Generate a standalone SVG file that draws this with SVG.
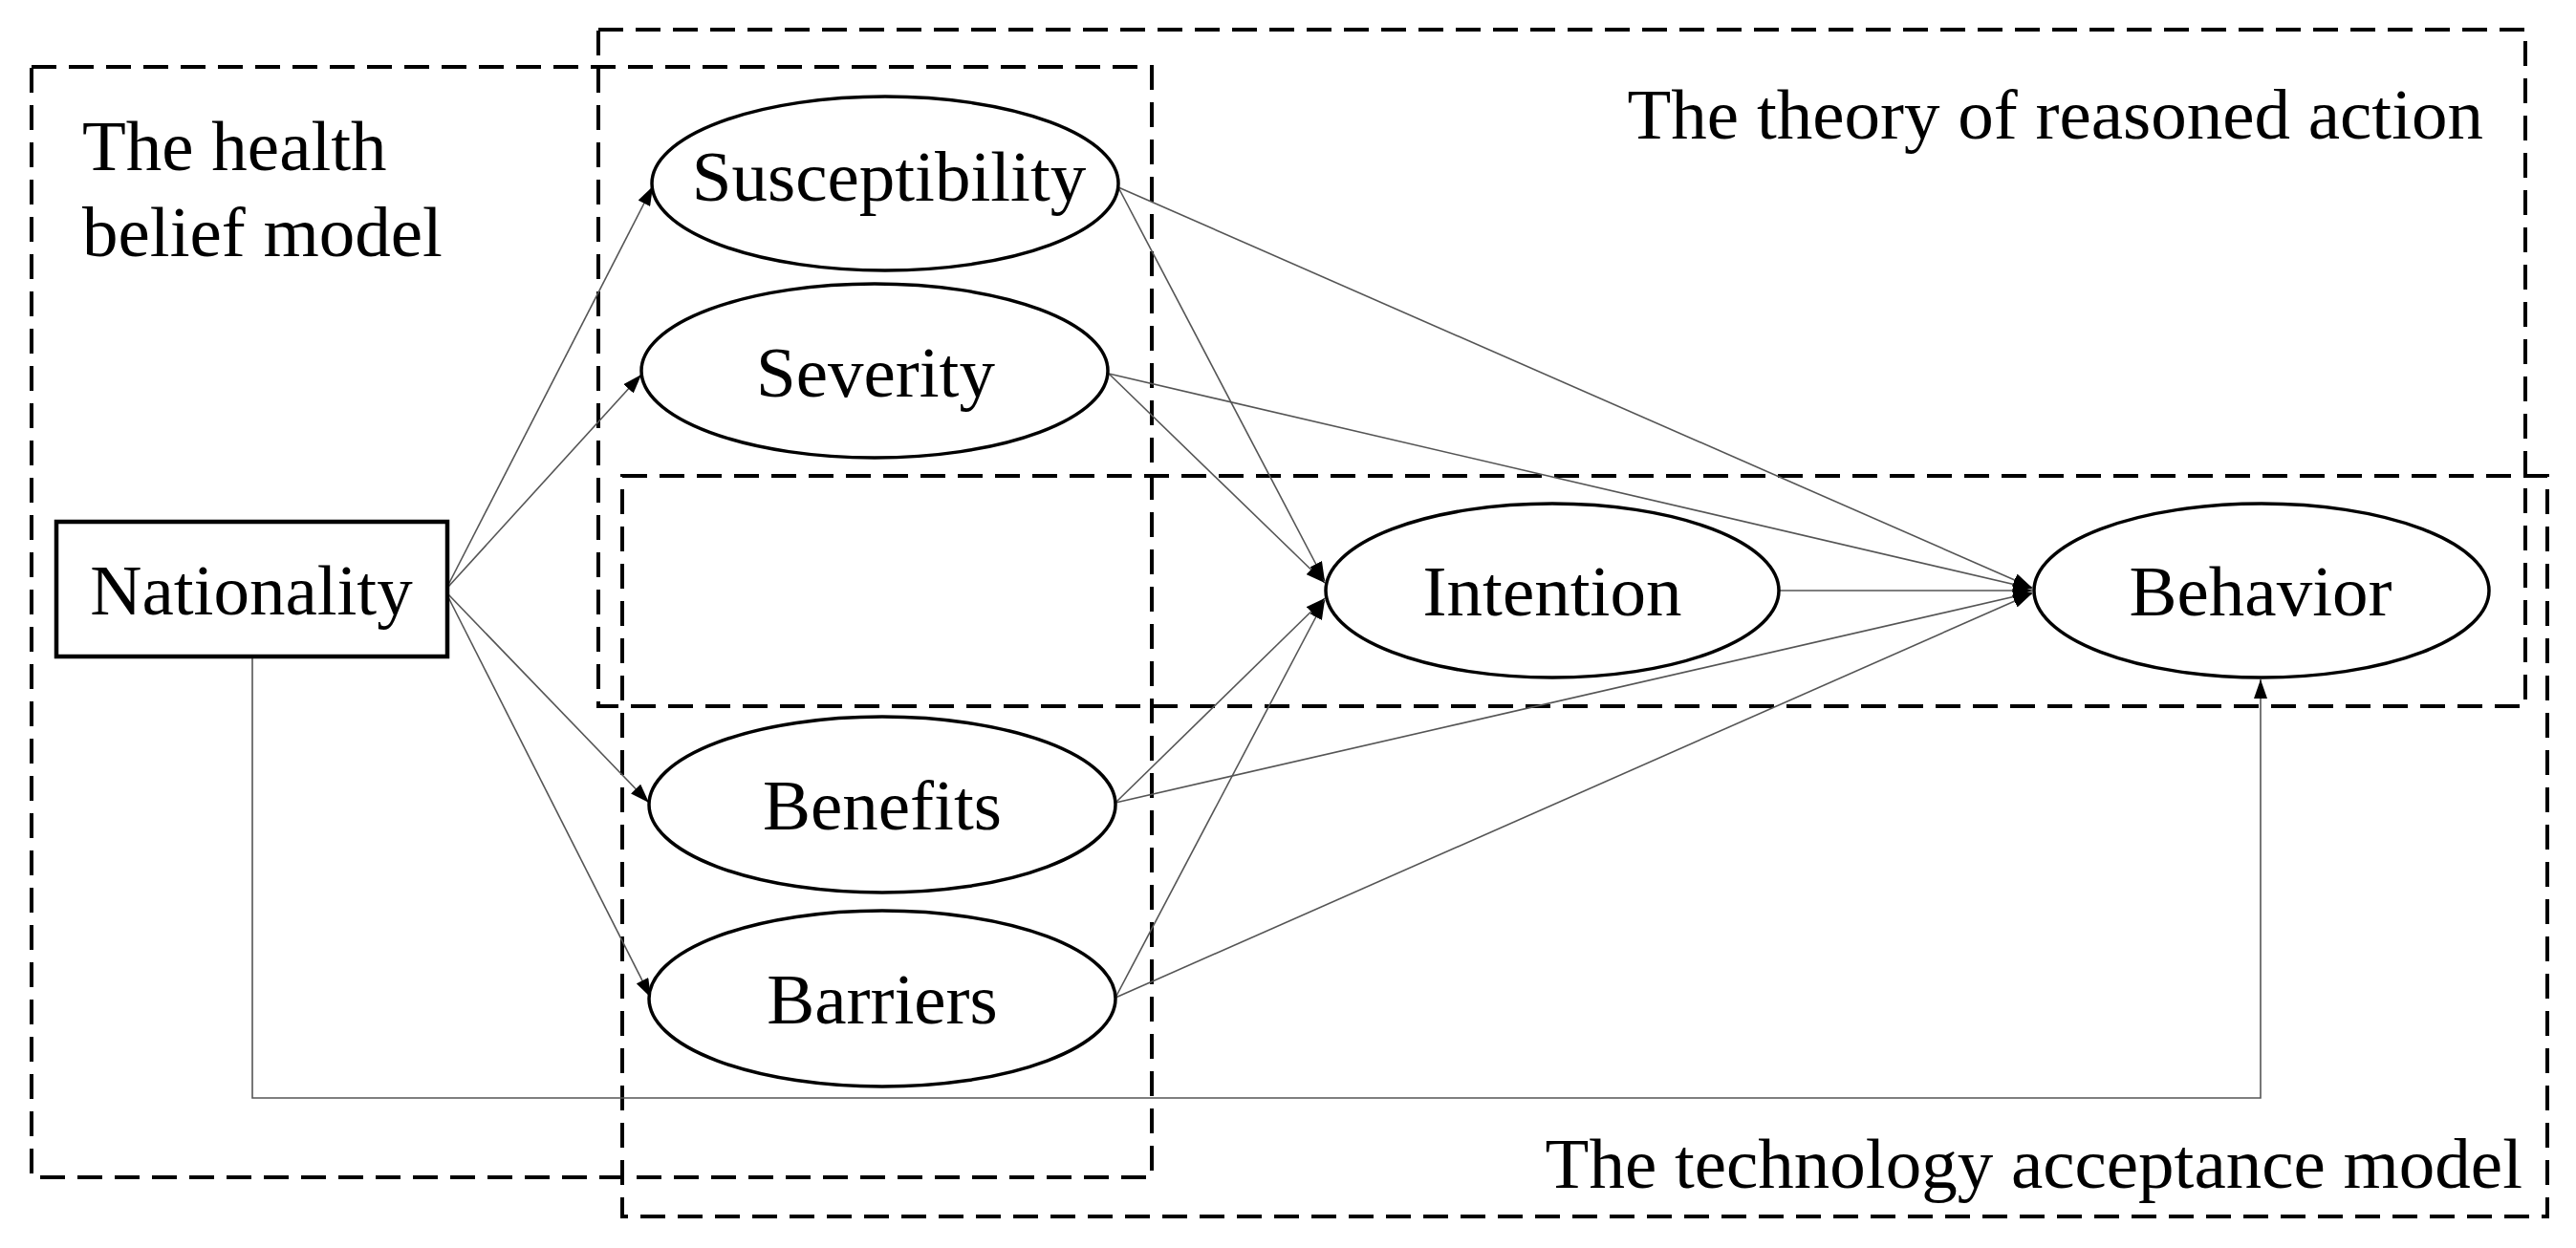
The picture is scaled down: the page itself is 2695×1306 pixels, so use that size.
<svg xmlns="http://www.w3.org/2000/svg" width="2695" height="1306" viewBox="0 0 2695 1306">
<style>
  .frame{fill:none;stroke:#000;stroke-width:4;stroke-dasharray:26 13}
  .node{fill:#fff;stroke:#000;stroke-width:3.5}
  .box{fill:#fff;stroke:#000;stroke-width:4.5}
  .lbl{font-family:"Liberation Serif","Times New Roman",serif;font-size:75px;fill:#000}
  .mid{text-anchor:middle}
  .end{text-anchor:end}
  .edge{fill:none;stroke:#555;stroke-width:1.6}
</style>
<defs>
  <marker id="arr" markerUnits="userSpaceOnUse" markerWidth="20" markerHeight="14" refX="20" refY="7" orient="auto">
    <path d="M0,0 L20,7 L0,14 Z" fill="#000"/>
  </marker>
</defs>
<rect width="2695" height="1306" fill="#fff"/>

<g id="frames">
  <g id="frame-hbm">
    <rect class="frame" x="33" y="70" width="1172" height="1162"/>
    <text class="lbl" x="86" y="178">The health</text>
    <text class="lbl" x="86" y="268">belief model</text>
  </g>
  <g id="frame-tra">
    <rect class="frame" x="626" y="31" width="2016" height="708"/>
    <text class="lbl end" x="2598" y="145">The theory of reasoned action</text>
  </g>
  <g id="frame-tam">
    <rect class="frame" x="651" y="498" width="2014" height="775"/>
    <text class="lbl end" x="2639" y="1243">The technology acceptance model</text>
  </g>
</g>

<g id="connectors">
  <line class="edge" x1="469" y1="612" x2="683" y2="195" marker-end="url(#arr)"/>
  <line class="edge" x1="469" y1="614" x2="671" y2="392" marker-end="url(#arr)"/>
  <line class="edge" x1="469" y1="622" x2="679" y2="840" marker-end="url(#arr)"/>
  <line class="edge" x1="469" y1="625" x2="681" y2="1044" marker-end="url(#arr)"/>

  <line class="edge" x1="1170" y1="196" x2="1386" y2="608" marker-end="url(#arr)"/>
  <line class="edge" x1="1160" y1="391" x2="1386" y2="610" marker-end="url(#arr)"/>
  <line class="edge" x1="1167" y1="840" x2="1386" y2="626" marker-end="url(#arr)"/>
  <line class="edge" x1="1167" y1="1044" x2="1386" y2="628" marker-end="url(#arr)"/>

  <line class="edge" x1="1170" y1="196" x2="2126" y2="615" marker-end="url(#arr)"/>
  <line class="edge" x1="1160" y1="391" x2="2126" y2="616" marker-end="url(#arr)"/>
  <line class="edge" x1="1861" y1="618" x2="2126" y2="618" marker-end="url(#arr)"/>
  <line class="edge" x1="1167" y1="840" x2="2126" y2="620" marker-end="url(#arr)"/>
  <line class="edge" x1="1167" y1="1044" x2="2126" y2="621" marker-end="url(#arr)"/>

  <polyline class="edge" points="264,688 264,1149 2365,1149 2365,711" marker-end="url(#arr)"/>
</g>

<g id="node-nationality">
  <rect class="box" x="59" y="546" width="409" height="141"/>
  <text class="lbl mid" x="263" y="643">Nationality</text>
</g>
<g id="node-susceptibility">
  <ellipse class="node" cx="926" cy="192" rx="244" ry="91"/>
  <text class="lbl mid" x="930" y="210">Susceptibility</text>
</g>
<g id="node-severity">
  <ellipse class="node" cx="915" cy="388" rx="244" ry="91"/>
  <text class="lbl mid" x="916" y="415">Severity</text>
</g>
<g id="node-benefits">
  <ellipse class="node" cx="923" cy="842" rx="244" ry="92"/>
  <text class="lbl mid" x="923" y="868">Benefits</text>
</g>
<g id="node-barriers">
  <ellipse class="node" cx="923" cy="1045" rx="244" ry="92"/>
  <text class="lbl mid" x="923" y="1071">Barriers</text>
</g>
<g id="node-intention">
  <ellipse class="node" cx="1624" cy="618" rx="237" ry="91"/>
  <text class="lbl mid" x="1624" y="644">Intention</text>
</g>
<g id="node-behavior">
  <ellipse class="node" cx="2366" cy="618" rx="238" ry="91"/>
  <text class="lbl mid" x="2365" y="644">Behavior</text>
</g>
</svg>
